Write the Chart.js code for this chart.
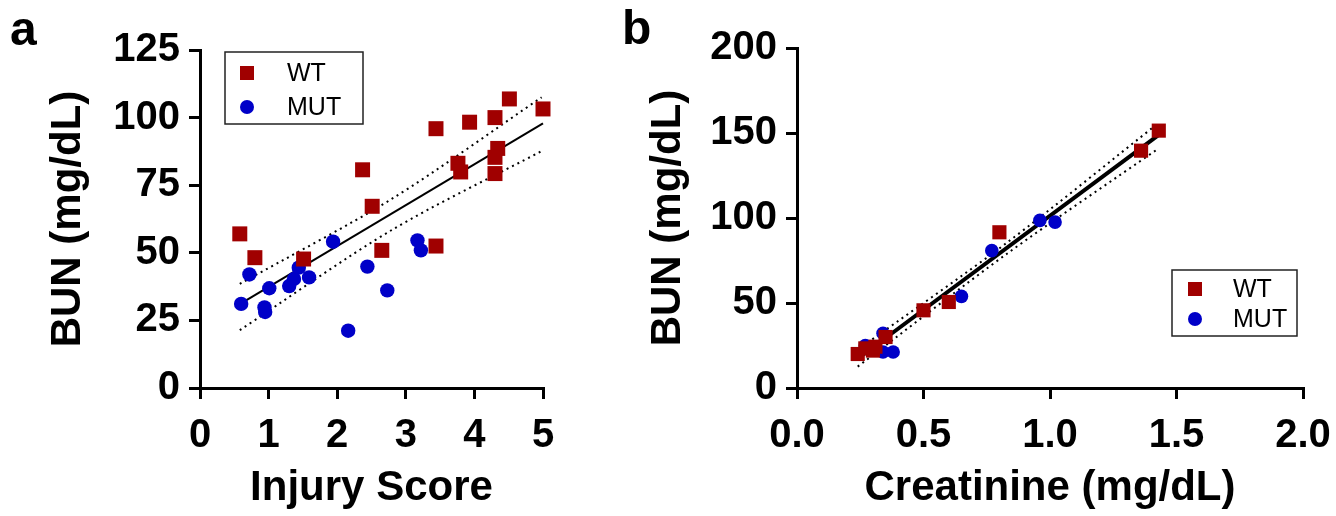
<!DOCTYPE html>
<html>
<head>
<meta charset="utf-8">
<script src="https://cdn.jsdelivr.net/npm/chart.js@4"></script>
<style>
  html, body { margin: 0; background: #fff; overflow: hidden; }
  #wrap { position: relative; width: 1336px; height: 516px; overflow: hidden; }
  canvas { position: absolute; top: 0; }
  .tag { position: absolute; font: bold 48px "Liberation Sans", Arial, sans-serif; line-height: 48px; color: #000; }
</style>
</head>
<body>
<div id="wrap">
  <canvas id="chartA" width="620" height="516" style="left:0"></canvas>
  <canvas id="chartB" width="732" height="516" style="left:620px"></canvas>
  <div class="tag" style="left:10px;top:5px">a</div>
  <div class="tag" style="left:622px;top:4px">b</div>
</div>
<script>
// panel a: injury score vs BUN
const injuryWT = [0.58, 0.80, 1.51, 2.37, 2.51, 2.65, 3.44, 3.44, 3.76, 3.80, 3.93, 4.30, 4.34, 4.30, 4.30, 4.51, 5.00];
const bunWTa   = [57.0, 48.2, 47.7, 80.7, 67.2, 50.9, 95.9, 52.5, 83.1, 79.9, 98.3, 100.0, 88.6, 85.3, 79.3, 106.9, 103.2];
const injuryMUT = [0.60, 0.72, 0.94, 0.95, 1.01, 1.30, 1.37, 1.44, 1.59, 1.94, 2.16, 2.44, 2.73, 3.17, 3.22];
const bunMUTa   = [31.1, 42.0, 29.8, 28.1, 36.9, 37.7, 40.3, 44.5, 40.9, 54.1, 21.2, 44.9, 36.1, 54.6, 50.9];
const fitXa = [0.58, 5.00];
const fitYa = [31.0, 97.9];
const bandXa = [0.58, 2.80, 4.98];
const bandUpA = [38.5, 70.0, 107.5];
const bandLoA = [21.4, 58.5, 87.6];

// panel b: creatinine vs BUN
const creatWT = [0.24, 0.27, 0.30, 0.31, 0.35, 0.50, 0.60, 0.80, 1.36, 1.43];
const bunWTb  = [20.0, 23.3, 22.0, 24.3, 30.0, 45.7, 50.6, 91.6, 139.6, 151.4];
const creatMUT = [0.27, 0.34, 0.34, 0.38, 0.65, 0.77, 0.96, 1.02];
const bunMUTb  = [24.9, 32.2, 21.2, 21.2, 53.9, 80.8, 98.6, 97.6];
const fitXb = [0.24, 1.43];
const fitYb = [17.2, 148.9];
const bandXb = [0.24, 0.83, 1.43];
const bandUpB = [22.5, 85.5, 156.0];
const bandLoB = [12.6, 79.0, 141.0];

const WT_COLOR = "#a00000";
const MUT_COLOR = "#0000c8";
const FONT = '"Liberation Sans", Arial, sans-serif';

const pts = (xs, ys) => xs.map((x, i) => ({ x: x, y: ys[i] }));

// legend drawn as a boxed key inside the plot
const boxLegend = {
  id: "boxLegend",
  afterDatasetsDraw(chart, args, o) {
    const ctx = chart.ctx, a = chart.chartArea;
    const x = o.right != null ? a.right - o.right - o.width : a.left + o.left;
    const y = o.bottom != null ? a.bottom - o.bottom - o.height : a.top + o.top;
    ctx.save();
    ctx.fillStyle = "#fff";
    ctx.fillRect(x, y, o.width, o.height);
    ctx.strokeStyle = "#222";
    ctx.lineWidth = 1.5;
    ctx.strokeRect(x, y, o.width, o.height);
    chart.data.datasets.filter(d => d.inLegend).forEach((d, i) => {
      const cy = y + o.firstRow + i * o.rowGap;
      const cx = x + o.markerX;
      ctx.fillStyle = d.backgroundColor;
      if (d.pointStyle === "rect") {
        ctx.fillRect(cx - 7, cy - 7, 14, 14);
      } else {
        ctx.beginPath();
        ctx.arc(cx, cy, 7, 0, Math.PI * 2);
        ctx.fill();
      }
      ctx.fillStyle = "#000";
      ctx.font = "25px " + FONT;
      ctx.textBaseline = "middle";
      ctx.fillText(d.label, x + o.textX, cy + 1);
    });
    ctx.restore();
  }
};

function axis(min, max, step, titleText, pos, fmt, titlePad, fixedSize) {
  return {
    type: "linear",
    position: pos,
    min: min,
    max: max,
    border: { display: true, color: "#000", width: 3 },
    grid: { drawOnChartArea: false, drawTicks: true, tickLength: 11, color: "#000", lineWidth: 3 },
    ticks: {
      stepSize: step,
      autoSkip: false,
      maxRotation: 0,
      color: "#000",
      padding: pos === "left" ? 9 : 13,
      font: { family: FONT, size: 40, weight: "bold" },
      callback: fmt
    },
    title: {
      display: true,
      text: titleText,
      color: "#000",
      font: { family: FONT, size: 42, weight: "bold" },
      padding: titlePad
    },
    afterFit(scale) {
      if (pos === "left") scale.width = fixedSize; else scale.height = fixedSize;
    }
  };
}

function makeChart(id, d, sx, sy, pad, legendOpts, lineW, r) {
  new Chart(document.getElementById(id), {
    type: "scatter",
    data: {
      datasets: [
        { label: "WT", inLegend: true, data: pts(d.wtX, d.wtY), pointStyle: "rect", pointRadius: r.sq, pointHoverRadius: r.sq,
          backgroundColor: WT_COLOR, borderColor: WT_COLOR, borderWidth: 0, order: 0, clip: false },
        { label: "MUT", inLegend: true, data: pts(d.mutX, d.mutY), pointStyle: "circle", pointRadius: r.ci, pointHoverRadius: r.ci,
          backgroundColor: MUT_COLOR, borderColor: MUT_COLOR, borderWidth: 0, order: 1, clip: false },
        { label: "fit", data: pts(d.fitX, d.fitY), showLine: true, pointRadius: 0, borderColor: "#000",
          borderWidth: lineW, order: 2, clip: false },
        { label: "upper", data: pts(d.bandX, d.bandUp), showLine: true, pointRadius: 0, borderColor: "#000",
          borderWidth: 2, borderDash: [2, 4], tension: 0.3, order: 3, clip: false },
        { label: "lower", data: pts(d.bandX, d.bandLo), showLine: true, pointRadius: 0, borderColor: "#000",
          borderWidth: 2, borderDash: [2, 4], tension: 0.3, order: 4, clip: false }
      ]
    },
    options: {
      responsive: false,
      animation: false,
      layout: { padding: pad },
      scales: { x: sx, y: sy },
      plugins: {
        legend: { display: false },
        tooltip: { enabled: false },
        boxLegend: legendOpts
      }
    },
    plugins: [boxLegend]
  });
}

makeChart("chartA",
  { wtX: injuryWT, wtY: bunWTa, mutX: injuryMUT, mutY: bunMUTa, fitX: fitXa, fitY: fitYa,
    bandX: bandXa, bandUp: bandUpA, bandLo: bandLoA },
  axis(0, 5, 1, "Injury Score", "bottom", v => v, { top: 0, bottom: 2 }, 128),
  axis(0, 125, 25, "BUN (mg/dL)", "left", v => v, { top: 43, bottom: 0 }, 200),
  { top: 50, right: 77, bottom: 0, left: 0 },
  { left: 25, top: 2, width: 138, height: 72, firstRow: 21, rowGap: 34, markerX: 22, textX: 62 },
  2, { sq: 10.6, ci: 7.2 });

// canvas b reaches past the window edge so the last x label keeps its room
makeChart("chartB",
  { wtX: creatWT, wtY: bunWTb, mutX: creatMUT, mutY: bunMUTb, fitX: fitXb, fitY: fitYb,
    bandX: bandXb, bandUp: bandUpB, bandLo: bandLoB },
  axis(0, 2, 0.5, "Creatinine (mg/dL)", "bottom", v => v.toFixed(1), { top: 0, bottom: 2 }, 128),
  axis(0, 200, 50, "BUN (mg/dL)", "left", v => v, { top: 23, bottom: 0 }, 177),
  { top: 48, right: 49, bottom: 0, left: 0 },
  { right: 6, bottom: 52, width: 125, height: 66, firstRow: 19, rowGap: 30, markerX: 23, textX: 61 },
  4, { sq: 10.0, ci: 6.8 });
</script>
</body>
</html>
